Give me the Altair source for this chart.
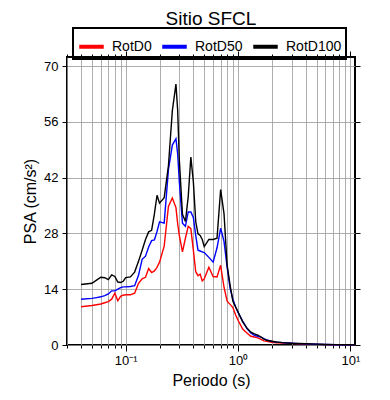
import altair as alt
import pandas as pd

periods = [0.04, 0.05, 0.055, 0.06, 0.065, 0.07, 0.075, 0.08, 0.085, 0.09, 0.095,
           0.10, 0.11, 0.12, 0.13, 0.14, 0.15, 0.16, 0.17, 0.18, 0.19, 0.20, 0.22,
           0.24, 0.26, 0.28, 0.29, 0.30, 0.32, 0.34, 0.36, 0.38, 0.40, 0.42, 0.44,
           0.46, 0.48, 0.50, 0.55, 0.60, 0.65, 0.70, 0.75, 0.80, 0.85, 0.90, 0.95,
           1.0, 1.1, 1.2, 1.3, 1.4, 1.5, 1.6, 1.7, 1.8, 2.0, 2.2, 2.5, 3.0, 3.5,
           4.0, 5.0, 6.0, 7.5, 10.0, 11.0]

rotd100 = [15.2, 15.5, 16.3, 17.0, 16.9, 16.4, 17.6, 17.2, 15.8, 15.7, 16.0,
           16.9, 17.1, 18.3, 21.0, 23.8, 26.5, 28.4, 28.8, 32.9, 37.6, 35.6, 37.0,
           45.0, 58.8, 65.5, 59.0, 46.5, 32.8, 31.0, 37.2, 47.2, 41.0, 31.0, 27.9,
           27.5, 26.5, 24.7, 26.5, 26.5, 26.8, 39.0, 33.0, 20.0, 15.0, 11.0, 9.6,
           8.3, 5.8, 4.3, 3.2, 2.8, 2.5, 2.0, 1.45, 1.2, 0.95, 0.75, 0.6, 0.45, 0.38,
           0.3, 0.22, 0.14, 0.1, 0.05, 0.04]

rotd50 = [11.5, 11.7, 11.9, 12.1, 12.4, 12.8, 13.6, 13.6, 14.0, 14.4, 14.6,
          14.6, 14.7, 14.9, 17.5, 21.5, 22.3, 24.6, 26.2, 26.4, 28.5, 30.9, 30.6,
          44.0, 50.2, 51.8, 48.0, 41.0, 30.6, 29.8, 33.4, 33.4, 32.0, 27.5, 23.8,
          23.6, 23.4, 23.2, 22.0, 20.8, 24.4, 29.3, 26.0, 19.5, 14.2, 11.5, 9.6,
          8.2, 6.0, 4.1, 3.0, 2.4, 2.2, 2.0, 1.6, 1.25, 0.9, 0.72, 0.6, 0.45, 0.35,
          0.28, 0.18, 0.12, 0.08, 0.04, 0.03]

rotd0 = [9.6, 9.9, 10.1, 10.3, 10.6, 10.9, 11.5, 13.0, 11.1, 12.2, 12.5,
         12.6, 12.6, 13.0, 15.5, 16.6, 17.0, 19.2, 18.2, 18.6, 19.5, 20.8, 24.8,
         34.8, 36.9, 34.5, 30.5, 27.5, 23.4, 26.8, 29.8, 29.2, 23.8, 18.4, 17.4,
         17.8, 16.1, 16.6, 19.5, 17.2, 17.1, 20.0, 14.5, 11.0, 10.2, 9.4, 7.6,
         6.2, 4.0, 3.0, 2.2, 2.0, 1.8, 1.4, 1.05, 0.9, 0.7, 0.55, 0.5, 0.4, 0.32,
         0.25, 0.16, 0.1, 0.07, 0.03, 0.02]

series_names = ["RotD0", "RotD50", "RotD100"]
series_colors = ["#ff0000", "#0000ff", "#000000"]

x_major = [0.1, 1, 10]
x_minor = [0.03, 0.04, 0.05, 0.06, 0.07, 0.08, 0.09,
           0.2, 0.3, 0.4, 0.5, 0.6, 0.7, 0.8, 0.9,
           2, 3, 4, 5, 6, 7, 8, 9]
y_ticks = [0, 14, 28, 42, 56, 70]

rows = []
for name, vals in zip(series_names, [rotd0, rotd50, rotd100]):
    for p, v in zip(periods, vals):
        rows.append({"period": p, "psa": v, "serie": name})
df = pd.DataFrame(rows)

FONT = "Liberation Sans"
xscale = alt.Scale(type="log", domain=[0.03, 11], nice=False)
yscale = alt.Scale(domain=[0, 72.3], nice=False, zero=True)

label_expr = ("datum.value < 0.5 ? '10\u207b\u00b9' : "
              "(datum.value < 5 ? '10\u2070' : '10\u00b9')")

lines = alt.Chart(df).mark_line(strokeWidth=1.4).encode(
    x=alt.X("period:Q", scale=xscale,
            axis=alt.Axis(orient="bottom", values=x_major, labelExpr=label_expr,
                          tickSize=6, grid=True, gridColor="#999999", gridWidth=0.8,
                          domain=False, title="Periodo (s)", titleFontSize=16,
                          titlePadding=5, labelFontSize=13, labelPadding=3,
                          labelFlush=False)),
    y=alt.Y("psa:Q", scale=yscale,
            axis=alt.Axis(orient="left", values=y_ticks, tickSize=5, grid=True,
                          gridColor="#999999", gridWidth=0.8, domain=False,
                          title="PSA (cm/s\u00b2)", titleFontSize=16, titlePadding=5,
                          labelFontSize=13, labelPadding=4, labelFlush=False)),
    color=alt.Color("serie:N",
                    scale=alt.Scale(domain=series_names, range=series_colors),
                    sort=series_names,
                    legend=alt.Legend(orient="none", legendX=6, legendY=-29,
                                      direction="horizontal", title=None,
                                      symbolType="stroke", symbolStrokeWidth=4,
                                      symbolSize=600, labelFontSize=14,
                                      labelFont=FONT, labelColor="black",
                                      columnPadding=2, padding=4,
                                      strokeColor="black", labelOffset=6)),
    order=alt.Order("period:Q"),
)

minor_bottom = alt.Chart(df).mark_line(opacity=0).encode(
    x=alt.X("period:Q", scale=xscale,
            axis=alt.Axis(orient="bottom", values=x_minor, tickSize=3, labels=False,
                          grid=True, gridColor="#999999", gridWidth=0.8,
                          domain=False, title=None)),
    y=alt.Y("psa:Q", scale=yscale,
            axis=alt.Axis(orient="right", values=y_ticks, tickSize=5, labels=False,
                          grid=False, domain=False, title=None)),
    detail="serie:N",
)

minor_top = alt.Chart(df).mark_line(opacity=0).encode(
    x=alt.X("period:Q", scale=xscale,
            axis=alt.Axis(orient="top", values=x_minor, tickSize=3, labels=False,
                          grid=False, domain=False, title=None)),
    y=alt.Y("psa:Q", scale=yscale, axis=None),
    detail="serie:N",
)

major_top = alt.Chart(df).mark_line(opacity=0).encode(
    x=alt.X("period:Q", scale=xscale,
            axis=alt.Axis(orient="top", values=x_major, tickSize=6, labels=False,
                          grid=False, domain=False, title=None)),
    y=alt.Y("psa:Q", scale=yscale, axis=None),
    detail="serie:N",
)

chart = alt.layer(minor_bottom, minor_top, major_top, lines).resolve_axis(
    x="independent", y="independent"
).properties(
    width=288, height=288,
    autosize=alt.AutoSizeParams(type="none"),
    padding={"left": 59, "top": 49, "right": 27, "bottom": 47},
    title=alt.Title("Sitio SFCL", fontSize=19, fontWeight="normal", font=FONT,
                    color="black", anchor="middle", offset=-2),
).configure_view(
    stroke="black", strokeWidth=2
).configure_axis(
    labelFont=FONT, titleFont=FONT, labelColor="black", titleColor="black",
    tickColor="black", titleFontWeight="normal"
).configure_legend(
    strokeWidth=2
)

chart.save("out.html", embed_options={"renderer": "svg", "actions": False})
